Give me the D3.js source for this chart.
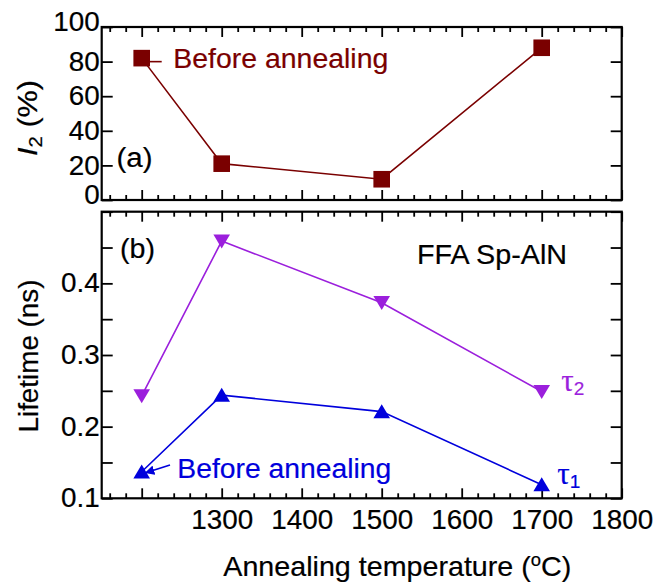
<!DOCTYPE html>
<html><head><meta charset="utf-8">
<script src="https://cdn.jsdelivr.net/npm/d3@7"></script>
<style>
html,body{margin:0;padding:0;background:#fff;}
svg{display:block;font-family:"Liberation Sans",Arial,sans-serif;}
svg text{stroke-width:0.2px;}
</style></head><body>
<svg id="chart" width="665" height="584"></svg>
<script>
// Annealing temperatures (°C); the as-grown sample sits at 1200
const temps = [1200, 1300, 1500, 1700];
// Intensity of the second lifetime component, I2 (%)
const i2Values = [82, 21, 12, 88];
// Lifetime components (ns)
const tau1Values = [0.137, 0.244, 0.221, 0.119];
const tau2Values = [0.243, 0.459, 0.373, 0.249];
// Tick values and labels
const xMajorTicks = [1200, 1300, 1400, 1500, 1600, 1700, 1800];
const xTickLabels = [1300, 1400, 1500, 1600, 1700, 1800];
const xMinorTicks = d3.range(1160, 1800, 20).filter(v => v % 100 !== 0);
const i2Ticks = [0, 20, 40, 60, 80, 100];
const lifetimeTicks = [0.1, 0.2, 0.3, 0.4];
const lifetimeMinorTicks = [0.15, 0.25, 0.35, 0.45];

const RED = "#7a0000", PURPLE = "#9b1fdc", BLUE = "#0000dc";
const STRETCH = 1.03;
const FS = 27;

const svg = d3.select("#chart");
const L = 101.7, R = 621.7;
const A = {top: 27, bottom: 200};
const B = {top: 211.7, bottom: 498.3};

const x = d3.scaleLinear().domain([1150, 1800]).range([L, R]);
const yA = d3.scaleLinear().domain([0, 100]).range([A.bottom, A.top]);
const yB = d3.scaleLinear().domain([0.1, 0.5]).range([B.bottom, B.top]);

function stretch(sel, k) {
  sel.each(function () {
    const len = this.getComputedTextLength();
    if (len > 0) d3.select(this).attr("textLength", len * k).attr("lengthAdjust", "spacingAndGlyphs");
  });
}

function styleAxis(g) {
  g.select(".domain").remove();
  g.selectAll(".tick line").attr("stroke", "#000").attr("stroke-width", 1.8);
  g.selectAll("text").attr("font-family", "'Liberation Sans', Arial, sans-serif")
    .attr("font-size", FS).attr("fill", "#000").attr("stroke", "#000");
}

function xAxes(panel, labelled) {
  // major + minor ticks on top and bottom edges, pointing inward
  const gb = svg.append("g").attr("transform", `translate(0,${panel.bottom})`)
    .call(d3.axisBottom(x).tickValues(xMajorTicks).tickSize(-10).tickPadding(12)
      .tickFormat(d => labelled && xTickLabels.includes(d) ? d : ""));
  styleAxis(gb);
  if (labelled) stretch(gb.selectAll("text"), STRETCH);
  const gbm = svg.append("g").attr("transform", `translate(0,${panel.bottom})`)
    .call(d3.axisBottom(x).tickValues(xMinorTicks).tickSize(-5).tickFormat(""));
  styleAxis(gbm);
  const gt = svg.append("g").attr("transform", `translate(0,${panel.top})`)
    .call(d3.axisTop(x).tickValues(xMajorTicks).tickSize(-10).tickFormat(""));
  styleAxis(gt);
  const gtm = svg.append("g").attr("transform", `translate(0,${panel.top})`)
    .call(d3.axisTop(x).tickValues(xMinorTicks).tickSize(-5).tickFormat(""));
  styleAxis(gtm);
}

function yAxes(scale, ticks, labels, fmt, shift) {
  const gl = svg.append("g").attr("transform", `translate(${L},0)`)
    .call(d3.axisLeft(scale).tickValues(ticks).tickSize(-11).tickPadding(2)
      .tickFormat(d => labels.includes(d) ? fmt(d) : ""));
  styleAxis(gl);
  gl.selectAll(".tick text").attr("y", d => shift(d));
  stretch(gl.selectAll("text"), STRETCH);
  const gr = svg.append("g").attr("transform", `translate(${R},0)`)
    .call(d3.axisRight(scale).tickValues(ticks).tickSize(-11).tickFormat(""));
  styleAxis(gr);
}

// ---------- panel (a): I2 ----------
xAxes(A, false);
yAxes(yA, i2Ticks, i2Ticks, d3.format("d"), d => (d === 0 || d === 100) ? -5.5 : 0);

// ---------- panel (b): lifetimes ----------
xAxes(B, true);
const bTicks = lifetimeTicks.concat(lifetimeMinorTicks, [0.5]);
yAxes(yB, bTicks, lifetimeTicks, d3.format(".1f"), () => 0);

// frames
[A, B].forEach(p => svg.append("rect")
  .attr("x", L).attr("y", p.top).attr("width", R - L).attr("height", p.bottom - p.top)
  .attr("fill", "none").attr("stroke", "#000").attr("stroke-width", 2.2));

// ---------- series ----------
const i2Data = temps.map((t, i) => ({t, v: i2Values[i]}));
const tau1Data = temps.map((t, i) => ({t, v: tau1Values[i]}));
const tau2Data = temps.map((t, i) => ({t, v: tau2Values[i]}));

const lineA = d3.line().x(d => x(d.t)).y(d => yA(d.v));
const lineB = d3.line().x(d => x(d.t)).y(d => yB(d.v));

svg.append("path").datum(i2Data).attr("d", lineA)
  .attr("fill", "none").attr("stroke", RED).attr("stroke-width", 1.6);
svg.selectAll(".sq").data(i2Data).enter().append("rect")
  .attr("x", d => x(d.t) - 8.3).attr("y", d => yA(d.v) - 8.3)
  .attr("width", 16.6).attr("height", 16.6).attr("fill", RED);

svg.append("path").datum(tau2Data).attr("d", lineB)
  .attr("fill", "none").attr("stroke", PURPLE).attr("stroke-width", 1.6);
svg.append("path").datum(tau1Data).attr("d", lineB)
  .attr("fill", "none").attr("stroke", BLUE).attr("stroke-width", 1.6);

const triDown = "M-8.3,-6.6L8.3,-6.6L0,7.4Z";
const triUp = "M-8.3,6.6L8.3,6.6L0,-7.4Z";
svg.selectAll(".td").data(tau2Data).enter().append("path")
  .attr("d", triDown).attr("transform", d => `translate(${x(d.t)},${yB(d.v)})`).attr("fill", PURPLE);
svg.selectAll(".tu").data(tau1Data).enter().append("path")
  .attr("d", triUp).attr("transform", d => `translate(${x(d.t)},${yB(d.v)})`).attr("fill", BLUE);

// ---------- annotations ----------
// panel (a): "Before annealing" with connector
const a0 = i2Data[0];
svg.append("line").attr("x1", x(a0.t)).attr("x2", x(a0.t) + 20)
  .attr("y1", yA(a0.v) + 3.5).attr("y2", yA(a0.v) + 3.5)
  .attr("stroke", RED).attr("stroke-width", 1.6);
svg.append("text").attr("x", 173.3).attr("y", 68).attr("font-size", 27)
  .attr("fill", RED).attr("stroke", RED).text("Before annealing")
  .attr("textLength", 215).attr("lengthAdjust", "spacingAndGlyphs");

// panel (b): "Before annealing" arrow to the tau1 point
const b0 = tau1Data[0];
svg.append("defs").append("marker").attr("id", "arrowBlue")
  .attr("viewBox", "0 0 10 10").attr("refX", 9).attr("refY", 5)
  .attr("markerWidth", 6).attr("markerHeight", 6).attr("orient", "auto")
  .append("path").attr("d", "M0,0L10,5L0,10Z").attr("fill", BLUE);
svg.append("line").attr("x1", 170).attr("y1", 465)
  .attr("x2", x(b0.t) + 4).attr("y2", yB(b0.v) + 1)
  .attr("stroke", BLUE).attr("stroke-width", 1.6).attr("marker-end", "url(#arrowBlue)");
svg.append("text").attr("x", 177.3).attr("y", 478).attr("font-size", 27)
  .attr("fill", BLUE).attr("stroke", BLUE).text("Before annealing")
  .attr("textLength", 214).attr("lengthAdjust", "spacingAndGlyphs");

// panel labels
svg.append("text").attr("x", 116.5).attr("y", 167).attr("font-size", 27).attr("stroke", "#000").text("(a)")
  .attr("textLength", 36).attr("lengthAdjust", "spacingAndGlyphs");
svg.append("text").attr("x", 120).attr("y", 258).attr("font-size", 27).attr("stroke", "#000").text("(b)")
  .attr("textLength", 35).attr("lengthAdjust", "spacingAndGlyphs");
svg.append("text").attr("x", 417).attr("y", 264).attr("font-size", 27).attr("stroke", "#000").text("FFA Sp-AlN")
  .attr("textLength", 150).attr("lengthAdjust", "spacingAndGlyphs");

// tau labels
function tauLabel(px, py, sub, color) {
  const t = svg.append("text").attr("x", px).attr("y", py).attr("fill", color).attr("stroke", color);
  t.append("tspan").attr("font-family", "'Liberation Serif', 'Times New Roman', serif")
    .attr("font-size", 31).text("τ");
  t.append("tspan").attr("font-size", 19).attr("dy", 4).text(sub);
}
tauLabel(x(1700) + 19.5, yB(tau2Values[3]) - 0.5, "2", PURPLE);
tauLabel(x(1700) + 15.5, yB(tau1Values[3]) - 1, "1", BLUE);

// axis titles
svg.append("text").attr("x", 223.3).attr("y", 576).attr("font-size", 28).attr("stroke", "#000")
  .call(t => {
    t.append("tspan").text("Annealing temperature (");
    t.append("tspan").attr("font-size", 18).attr("dy", -10).text("o");
    t.append("tspan").attr("dy", 10).text("C)");
  })
  .attr("textLength", 348).attr("lengthAdjust", "spacingAndGlyphs");

svg.append("text").attr("transform", "translate(38,356) rotate(-90)")
  .attr("text-anchor", "middle").attr("font-size", 27).attr("stroke", "#000").text("Lifetime (ns)")
  .attr("textLength", 153).attr("lengthAdjust", "spacingAndGlyphs");

svg.append("text").attr("transform", "translate(37,118) rotate(-90)")
  .attr("text-anchor", "middle").attr("font-size", 27).attr("stroke", "#000")
  .call(t => {
    t.append("tspan").attr("font-style", "italic").text("I");
    t.append("tspan").attr("font-size", 18).attr("dy", 5).text("2");
    t.append("tspan").attr("dy", -5).text(" (%)");
  })
  .attr("textLength", 76).attr("lengthAdjust", "spacingAndGlyphs");
</script>
</body></html>
